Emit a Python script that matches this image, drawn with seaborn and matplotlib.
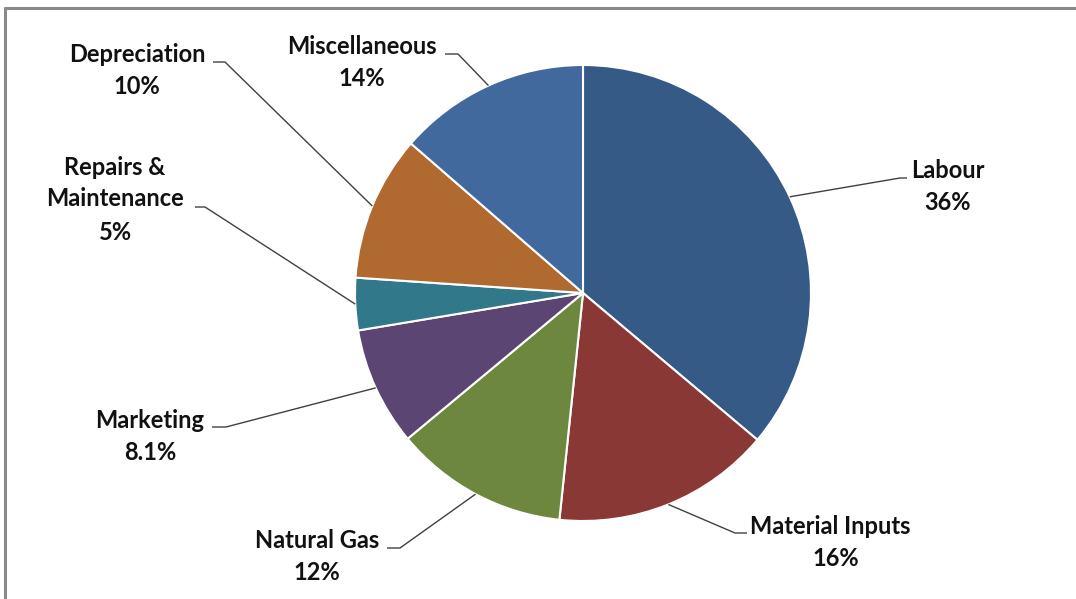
import matplotlib.pyplot as plt
import seaborn as sns
import numpy as np

sns.set_theme(style="white")
plt.rcParams['font.family'] = ['Lato', 'DejaVu Sans']

# cost shares, clockwise from 12 o'clock
categories = ['Labour', 'Material Inputs', 'Natural Gas', 'Marketing',
              'Repairs &\nMaintenance', 'Depreciation', 'Miscellaneous']
shares = [36.1, 15.5, 12.3, 8.4, 3.7, 10.3, 13.6]
pct_labels = ['36%', '16%', '12%', '8.1%', '5%', '10%', '14%']
colors = ['#365A86', '#8A3836', '#6D883E', '#5A4573', '#31788B', '#B0692F', '#41699D']

W, H = 1076, 599

# label layout in image pixels: name centre, pct centre, elbow start, elbow end
name_pos = [(948, 170), (830, 527), (317, 541), (150, 420), (115, 183), (137, 55), (362, 47)]
pct_pos = [(948, 202), (836, 558), (317, 573), (150, 452), (115, 232), (137, 87), (362, 79)]
elbow = [((900, 178), (907, 178)), ((735, 533), (747, 533)), ((400, 548), (387, 548)),
         ((226, 427), (212, 427)), ((205, 207), (195, 207)), ((225, 62), (213, 62)),
         ((458, 54), (445, 54))]

fig = plt.figure(figsize=(W / 100, H / 100), dpi=100)
ax = fig.add_axes([0, 0, 1, 1])

cx, cy, r = 583, H - 293, 228
wedges, _ = ax.pie(shares, colors=colors, startangle=90, counterclock=False,
                   center=(cx, cy), radius=r, frame=True,
                   wedgeprops=dict(edgecolor='white', linewidth=1.5))
ax.set_xlim(0, W)
ax.set_ylim(0, H)
ax.set_aspect('equal')
ax.axis('off')

for i, w in enumerate(wedges):
    mid = np.deg2rad((w.theta1 + w.theta2) / 2)
    px, py = cx + r * np.cos(mid), cy + r * np.sin(mid)
    (ex, ey), (hx, hy) = elbow[i]
    ax.plot([px, ex, hx], [py, H - ey, H - hy], color='#404040', lw=1.0,
            solid_capstyle='butt', zorder=3)
    ax.text(name_pos[i][0], H - name_pos[i][1], categories[i], ha='center', va='center',
            fontsize=17, fontweight='bold', color='#111111', linespacing=1.45)
    ax.text(pct_pos[i][0], H - pct_pos[i][1], pct_labels[i], ha='center', va='center',
            fontsize=17, fontweight='bold', color='#111111')

# chart border (clipped on right and bottom)
ax.plot([5, W], [H - 8, H - 8], color='#8a8a8a', lw=2.2, clip_on=False)
ax.plot([5, 5], [H - 8, 0], color='#8a8a8a', lw=2.2, clip_on=False)

fig.savefig('out.png', dpi=100, facecolor='white')
